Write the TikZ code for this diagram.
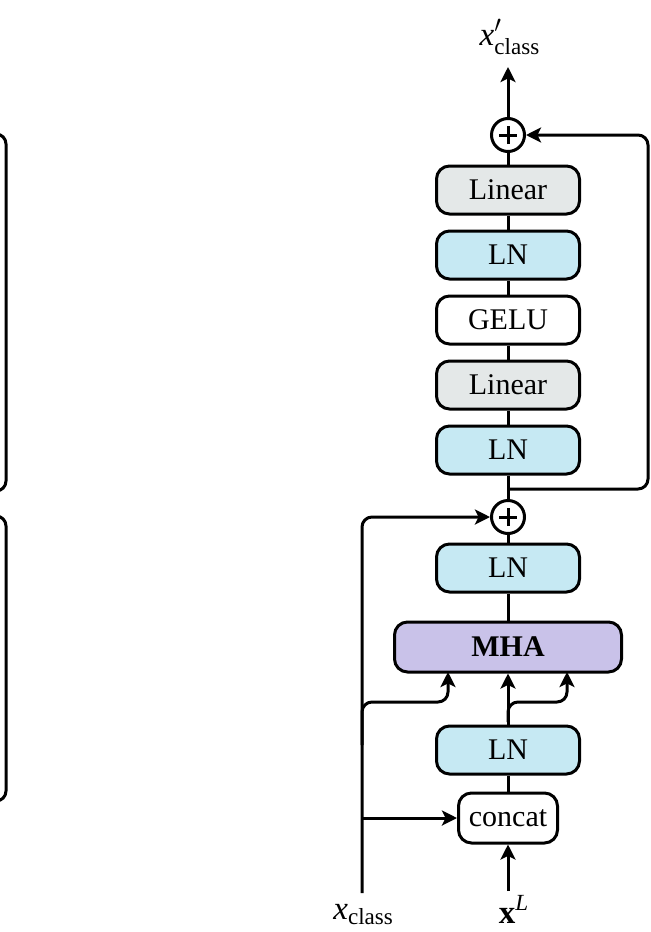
\documentclass[tikz,border=0pt]{standalone}
\usepackage{fontspec}
\usepackage{amsmath}
\setmainfont{Liberation Serif}
\usetikzlibrary{arrows.meta}

\definecolor{lnblue}{RGB}{198,233,243}
\definecolor{lingray}{RGB}{228,232,232}
\definecolor{mhapurple}{RGB}{201,194,233}

\tikzset{
  blk/.style={draw, line width=1.5pt, rounded corners=6.5pt, minimum width=71.5pt,
              minimum height=24pt, inner sep=0pt, font=\fontsize{15}{18}\selectfont},
  lnbox/.style={blk, fill=lnblue},
  linbox/.style={blk, fill=lingray},
  plainbox/.style={blk, fill=white},
  addop/.style={draw, circle, line width=1.5pt, minimum size=16.5pt, inner sep=0pt, fill=white},
  wire/.style={line width=1.5pt},
  arr/.style={wire, -{Stealth[length=7.5pt, width=7.5pt, inset=1.8pt]}},
  lbl/.style={inner sep=0pt, font=\fontsize{16.5}{19}\selectfont},
}

% draws the plus sign inside a summation circle
\newcommand{\plussign}[1]{%
  \draw[line width=1.5pt] ([xshift=-4.5pt]#1.center) -- ([xshift=4.5pt]#1.center);
  \draw[line width=1.5pt] ([yshift=-4.5pt]#1.center) -- ([yshift=4.5pt]#1.center);
}

\begin{document}
\begin{tikzpicture}[x=0.5pt, y=-0.5pt]
\useasboundingbox (0,0) rectangle (650,932);

% neighbouring blocks on the left
\draw[wire, rounded corners=5pt] (-120,134) rectangle (6,491);
\draw[wire, rounded corners=5pt] (-120,516) rectangle (6,801);

% main column
\node[addop] (p2) at (508,135) {};
\plussign{p2}
\node[linbox] (lin2) at (508,190) {Linear};
\node[lnbox] (ln4) at (508,255) {LN};
\node[plainbox] (gelu) at (508,320) {GELU};
\node[linbox] (lin1) at (508,385) {Linear};
\node[lnbox] (ln3) at (508,450) {LN};
\node[addop] (p1) at (508,517) {};
\plussign{p1}
\node[lnbox] (ln2) at (508,568) {LN};
\node[blk, fill=mhapurple, minimum width=113.5pt, minimum height=25pt] (mha) at (508,647) {\textbf{MHA}};
\node[lnbox] (ln1) at (508,750) {LN};
\node[plainbox, minimum width=49.5pt, minimum height=25pt] (cat) at (508,818) {concat};

% labels
\node[lbl, anchor=base] (out) at (510,45) {\textit{x}$'_{\text{class}}$};
\node[lbl, anchor=base] (xl) at (514,923) {\textbf{x}$^{\textit{L}}$};
\node[lbl, anchor=base west] (xc) at (333,919) {\textit{x}$_{\text{class}}$};

% coordinates for free ends and branch points
\coordinate (outend) at (508,67);
\coordinate (xlstart) at (508,891);
\coordinate (xcstart) at (362,893);
\coordinate (jcat) at (362,818);
\coordinate (jmha) at (362,745);
\coordinate (jmid) at (508,722);
\coordinate (jres) at (508,489);
\coordinate (qin) at (448,672);
\coordinate (vin) at (567,672);

% straight links in the stack
\draw[wire] (lin2.north) -- (p2.south);
\draw[wire] (ln4.north) -- (lin2.south);
\draw[wire] (gelu.north) -- (ln4.south);
\draw[wire] (lin1.north) -- (gelu.south);
\draw[wire] (ln3.north) -- (lin1.south);
\draw[wire] (p1.north) -- (ln3.south);
\draw[wire] (ln2.north) -- (p1.south);
\draw[wire] (mha.north) -- (ln2.south);
\draw[wire] (cat.north) -- (ln1.south);

% output and residual of the MLP part
\draw[arr] (p2.north) -- (outend);
\draw[arr, rounded corners=5pt] (jres) -- (648,489) -- (648,135) -- (p2.east);

% class token path
\draw[arr, rounded corners=5pt] (xcstart) -- (362,517) -- (p1.west);
\draw[arr] (jcat) -- (cat.west);
\draw[arr, rounded corners=5pt] (jmha) -- (362,702) -- (448,702) -- (qin);

% patch tokens
\draw[arr] (xlstart) -- (cat.south);
\draw[arr] (ln1.north) -- (mha.south);
\draw[arr, rounded corners=5pt] (jmid) -- (508,702) -- (567,702) -- (vin);
\end{tikzpicture}
\end{document}
